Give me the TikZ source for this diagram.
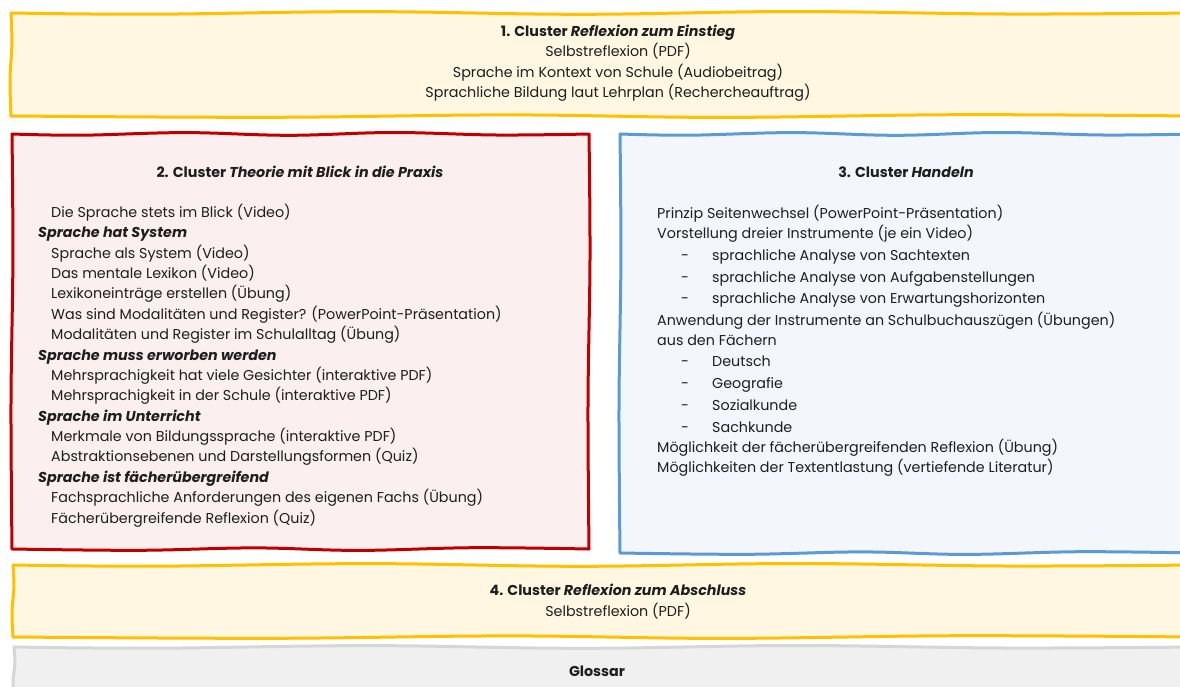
\documentclass[tikz,border=0pt]{standalone}
\usepackage{fontspec}
\setmainfont{Poppins}
\usetikzlibrary{calc}
\definecolor{ygold}{HTML}{FFC000}
\definecolor{yfill}{HTML}{FFF7E1}
\definecolor{rborder}{HTML}{C00000}
\definecolor{rfill}{HTML}{FBEFEF}
\definecolor{bborder}{HTML}{5B9BD5}
\definecolor{bfill}{HTML}{F3F7FC}
\definecolor{gborder}{HTML}{D6D6D6}
\definecolor{gfill}{HTML}{F0F0F0}
\definecolor{ink}{HTML}{1E1E1E}
\newcommand\wobblebox[5]{%
  \path[#1] (#2,#3)
   -- plot[smooth,tension=0.6] coordinates {(#2,#3) ({#2+0.12*(#4-#2)},{#3+1.2}) ({#2+0.3*(#4-#2)},{#3-1.4}) ({#2+0.48*(#4-#2)},{#3+1.3}) ({#2+0.66*(#4-#2)},{#3-1.5}) ({#2+0.84*(#4-#2)},{#3+1.0}) (#4,#3)}
   -- plot[smooth,tension=0.6] coordinates {(#4,#3) ({#4+1.0},{#3+0.3*(#5-#3)}) ({#4-1.0},{#3+0.65*(#5-#3)}) (#4,#5)}
   -- plot[smooth,tension=0.6] coordinates {(#4,#5) ({#4-0.2*(#4-#2)},{#5-1.3}) ({#4-0.4*(#4-#2)},{#5+1.4}) ({#4-0.58*(#4-#2)},{#5-1.1}) ({#4-0.78*(#4-#2)},{#5+1.3}) (#2,#5)}
   -- plot[smooth,tension=0.6] coordinates {(#2,#5) ({#2-1.0},{#5-0.35*(#5-#3)}) ({#2+0.9},{#5-0.7*(#5-#3)}) (#2,#3)}
   -- cycle;}
\newcommand\txtsz{\fontsize{14.3}{17}\selectfont}
\tikzset{
  frame/.style={line width=3pt, line join=round},
  ln/.style={anchor=base west, inner sep=0pt, text=ink, font=\txtsz},
  cl/.style={anchor=base, inner sep=0pt, text=ink, font=\txtsz},
  hd/.style={anchor=base west, inner sep=0pt, text=ink, font=\txtsz\bfseries\itshape},
}
\begin{document}
\begin{tikzpicture}[x=1pt,y=-1pt]
\useasboundingbox (0,0) rectangle (1180,686);
\fill[white] (0,0) rectangle (1180,686);
% frames
\wobblebox{frame,draw=ygold,fill=yfill}{11}{13}{1195}{116}
\wobblebox{frame,draw=rborder,fill=rfill}{12}{134}{589}{549}
\wobblebox{frame,draw=bborder,fill=bfill}{620}{134}{1195}{553}
\wobblebox{frame,draw=ygold,fill=yfill}{13}{565}{1195}{637}
\wobblebox{frame,draw=gborder,fill=gfill}{14}{647}{1195}{700}
% cluster 1
\node[cl] (t1) at (618,36) {\bfseries 1. Cluster \itshape Reflexion zum Einstieg};
\node[cl] (a1) at (618,56) {Selbstreflexion (PDF)};
\node[cl] (a2) at (618,77) {Sprache im Kontext von Schule (Audiobeitrag)};
\node[cl] (a3) at (618,97) {Sprachliche Bildung laut Lehrplan (Rechercheauftrag)};
% cluster 2
\node[cl] (t2) at (300,177) {\bfseries 2. Cluster \itshape Theorie mit Blick in die Praxis};
\node[ln] (b1) at (51,217.5) {Die Sprache stets im Blick (Video)};
\node[hd] (h1) at (38,237.8) {Sprache hat System};
\node[ln] (b2) at (51,258.2) {Sprache als System (Video)};
\node[ln] (b3) at (51,278.6) {Das mentale Lexikon (Video)};
\node[ln] (b4) at (51,298.9) {Lexikoneinträge erstellen (Übung)};
\node[ln] (b5) at (51,319.3) {Was sind Modalitäten und Register? (PowerPoint-Präsentation)};
\node[ln] (b6) at (51,339.7) {Modalitäten und Register im Schulalltag (Übung)};
\node[hd] (h2) at (38,360.0) {Sprache muss erworben werden};
\node[ln] (b7) at (51,380.4) {Mehrsprachigkeit hat viele Gesichter (interaktive PDF)};
\node[ln] (b8) at (51,400.8) {Mehrsprachigkeit in der Schule (interaktive PDF)};
\node[hd] (h3) at (38,421.1) {Sprache im Unterricht};
\node[ln] (b9) at (51,441.5) {Merkmale von Bildungssprache (interaktive PDF)};
\node[ln] (b10) at (51,461.9) {Abstraktionsebenen und Darstellungsformen (Quiz)};
\node[hd] (h4) at (38,482.2) {Sprache ist fächerübergreifend};
\node[ln] (b11) at (51,502.6) {Fachsprachliche Anforderungen des eigenen Fachs (Übung)};
\node[ln] (b12) at (51,523.0) {Fächerübergreifende Reflexion (Quiz)};
% cluster 3
\node[cl] (t3) at (906,177) {\bfseries 3. Cluster \itshape Handeln};
\node[ln] (c1) at (657,218) {Prinzip Seitenwechsel (PowerPoint-Präsentation)};
\node[ln] (c2) at (657,238) {Vorstellung dreier Instrumente (je ein Video)};
\node[ln] (d1) at (681,260) {-};
\node[ln] (c3) at (712,260) {sprachliche Analyse von Sachtexten};
\node[ln] (d2) at (681,282) {-};
\node[ln] (c4) at (712,282) {sprachliche Analyse von Aufgabenstellungen};
\node[ln] (d3) at (681,303) {-};
\node[ln] (c5) at (712,303) {sprachliche Analyse von Erwartungshorizonten};
\node[ln] (c6) at (657,325) {Anwendung der Instrumente an Schulbuchauszügen (Übungen)};
\node[ln] (c7) at (657,345) {aus den Fächern};
\node[ln] (d4) at (681,366) {-};
\node[ln] (c8) at (712,366) {Deutsch};
\node[ln] (d5) at (681,388) {-};
\node[ln] (c9) at (712,388) {Geografie};
\node[ln] (d6) at (681,410) {-};
\node[ln] (c10) at (712,410) {Sozialkunde};
\node[ln] (d7) at (681,432) {-};
\node[ln] (c11) at (712,432) {Sachkunde};
\node[ln] (c12) at (657,452) {Möglichkeit der fächerübergreifenden Reflexion (Übung)};
\node[ln] (c13) at (657,472) {Möglichkeiten der Textentlastung (vertiefende Literatur)};
% cluster 4
\node[cl] (t4) at (618,595) {\bfseries 4. Cluster \itshape Reflexion zum Abschluss};
\node[cl] (e1) at (618,616) {Selbstreflexion (PDF)};
% glossar
\node[cl] (g) at (597,676.5) {\bfseries Glossar};
\end{tikzpicture}
\end{document}
